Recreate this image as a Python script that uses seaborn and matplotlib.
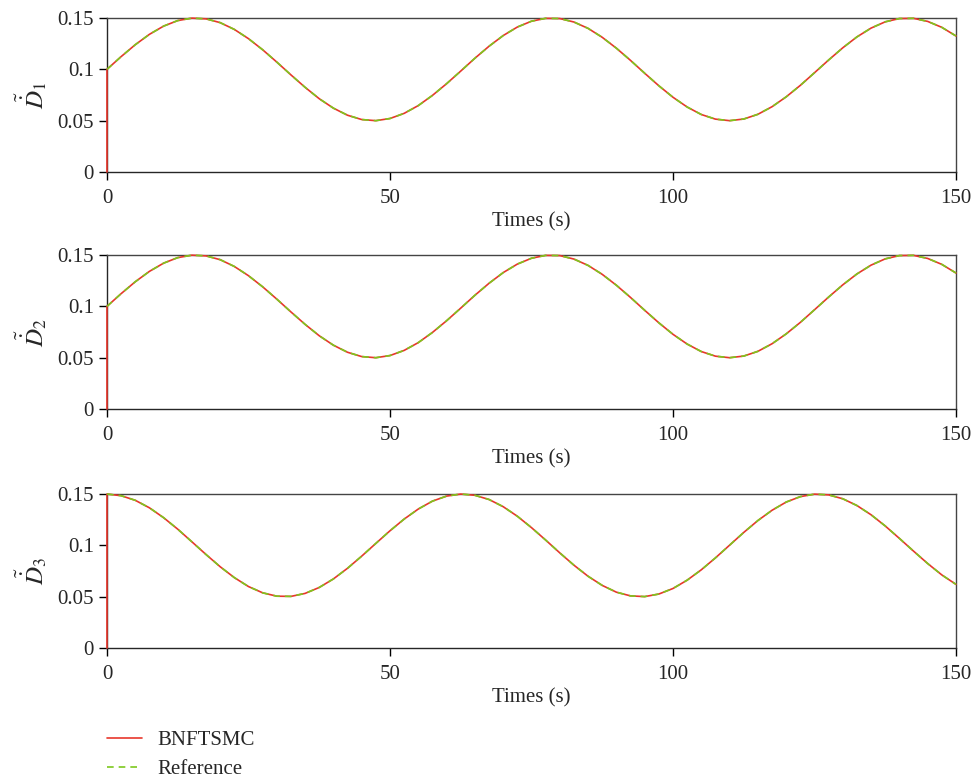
import numpy as np
import pandas as pd
import seaborn as sns
import matplotlib.pyplot as plt

# time grid (s) and values
t = np.arange(0, 150.01, 2.5)

d1 = [0.1000, 0.1124, 0.1240, 0.1341, 0.1421, 0.1475, 0.1499, 0.1492, 0.1455, 0.1389,
      0.1299, 0.1191, 0.1071, 0.0946, 0.0825, 0.0714, 0.0622, 0.0553, 0.0511, 0.0500,
      0.0521, 0.0571, 0.0647, 0.0746, 0.0860, 0.0983, 0.1108, 0.1225, 0.1329, 0.1412,
      0.1469, 0.1497, 0.1495, 0.1461, 0.1399, 0.1312, 0.1206, 0.1087, 0.0962, 0.0840,
      0.0728, 0.0633, 0.0560, 0.0515, 0.0500, 0.0516, 0.0562, 0.0636, 0.0732, 0.0844,
      0.0967, 0.1091, 0.1210, 0.1316, 0.1402, 0.1463, 0.1495, 0.1497, 0.1467, 0.1409,
      0.1325]
d2 = list(d1)
d3 = [0.1500, 0.1484, 0.1439, 0.1366, 0.1270, 0.1158, 0.1035, 0.0911, 0.0792, 0.0686,
      0.0599, 0.0538, 0.0505, 0.0503, 0.0532, 0.0590, 0.0673, 0.0777, 0.0895, 0.1019,
      0.1142, 0.1256, 0.1354, 0.1431, 0.1480, 0.1500, 0.1488, 0.1447, 0.1377, 0.1284,
      0.1173, 0.1052, 0.0927, 0.0807, 0.0699, 0.0610, 0.0544, 0.0508, 0.0501, 0.0526,
      0.0580, 0.0661, 0.0762, 0.0878, 0.1002, 0.1126, 0.1242, 0.1342, 0.1422, 0.1475,
      0.1499, 0.1492, 0.1454, 0.1388, 0.1298, 0.1189, 0.1068, 0.0944, 0.0823, 0.0712,
      0.0620]

# controller output starts from zero at t = 0
start_value = 0.0

ylabels = [r'$\tilde{\dot{D}}_1$', r'$\tilde{\dot{D}}_2$', r'$\tilde{\dot{D}}_3$']
xticks = [0, 50, 100, 150]
yticks = [0, 0.05, 0.1, 0.15]
ytick_labels = ['0', '0.05', '0.1', '0.15']

sns.set_theme(style="ticks")
plt.rcParams['font.family'] = ['Liberation Serif', 'DejaVu Serif']
plt.rcParams['mathtext.fontset'] = 'stix'

red = '#e8372c'
green = '#7dc81e'

fig = plt.figure(figsize=(9.76, 7.8), dpi=100)
boxes = [(0.1096, 0.7795, 0.8699, 0.1974),
         (0.1096, 0.4756, 0.8699, 0.1974),
         (0.1096, 0.1692, 0.8699, 0.1974)]

for i, ref in enumerate([d1, d2, d3]):
    ax = fig.add_axes(boxes[i])
    ctrl = pd.DataFrame({'t': np.concatenate([[0.0], t]),
                         'v': np.concatenate([[start_value], ref])})
    refd = pd.DataFrame({'t': t, 'v': ref})
    sns.lineplot(data=ctrl, x='t', y='v', ax=ax, color=red, lw=1.2,
                 estimator=None, sort=False, zorder=3,
                 label='BNFTSMC' if i == 0 else None)
    sns.lineplot(data=refd, x='t', y='v', ax=ax, color=green, lw=1.2,
                 linestyle=(0, (4, 3)), estimator=None, sort=False, zorder=4,
                 label='Reference' if i == 0 else None)
    for ln in ax.lines:
        ln.set_clip_on(False)
    ax.set_xlim(0, 150)
    ax.set_ylim(0, 0.15)
    ax.set_xticks(xticks)
    ax.set_xticklabels([str(x) for x in xticks])
    ax.set_yticks(yticks)
    ax.set_yticklabels(ytick_labels)
    ax.tick_params(labelsize=15, direction='out', length=6, width=1, color='black')
    ax.tick_params(axis='x', pad=6)
    ax.set_xlabel('Times (s)', fontsize=15, labelpad=3)
    ax.set_ylabel(ylabels[i], fontsize=18, labelpad=6)
    for side in ['top', 'right']:
        ax.spines[side].set_color('#444444')
    for side in ax.spines:
        ax.spines[side].set_linewidth(1.0)
    if ax.get_legend() is not None:
        handles, labels = ax.get_legend_handles_labels()
        ax.get_legend().remove()

fig.legend(handles, labels, loc='upper left', bbox_to_anchor=(0.1096, 0.063),
           frameon=False, fontsize=15, handlelength=1.7, handletextpad=0.7,
           borderpad=0, borderaxespad=0, labelspacing=0.45)

plt.savefig('out.png', dpi=100)
